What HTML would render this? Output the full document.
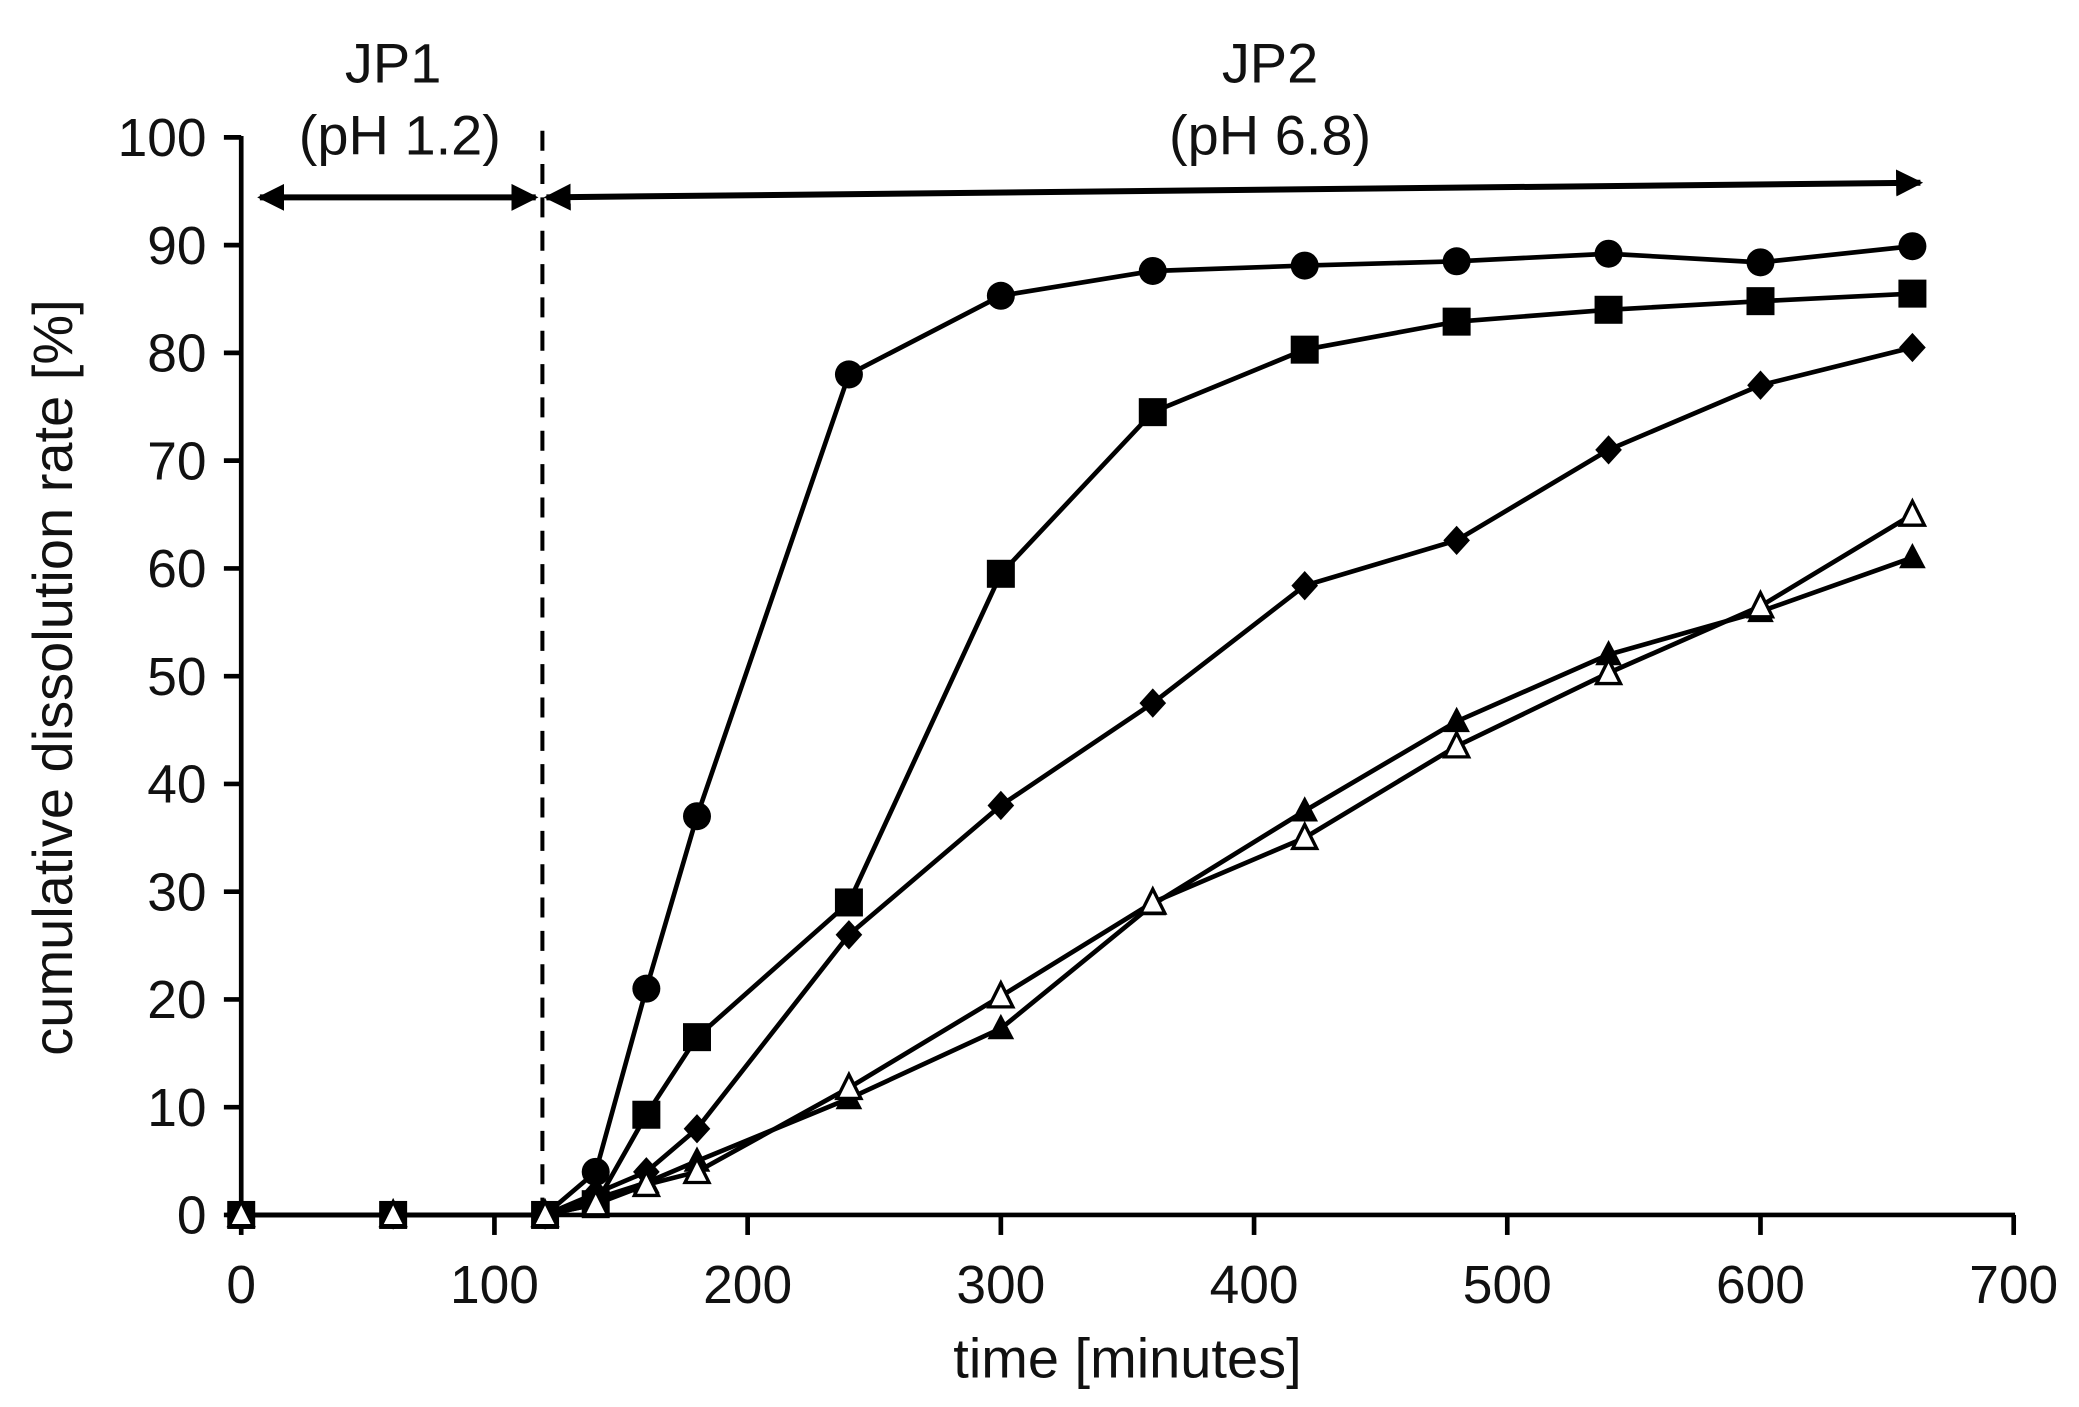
<!DOCTYPE html>
<html><head><style>html,body{margin:0;padding:0;background:#fff;}svg{display:block;}</style></head>
<body>
<svg width="2079" height="1407" viewBox="0 0 1560 1055" preserveAspectRatio="none" xmlns="http://www.w3.org/2000/svg" font-family="Liberation Sans, Arial, sans-serif">
<defs>
<marker id="ah" viewBox="0 0 10 10" refX="9" refY="5" markerWidth="4.5" markerHeight="4.5" orient="auto-start-reverse"><path d="M0,0 L10,5 L0,10 z" fill="#000"/></marker>
</defs>
<g stroke="#000" stroke-width="3.5" fill="none">
<line x1="181" y1="102" x2="181" y2="913"/>
<line x1="170" y1="911" x2="1512" y2="911"/>
</g>
<g stroke="#000" stroke-width="3.5" id="yt"></g>
<g stroke="#000" stroke-width="3.5" id="xt"></g>
<g font-size="40" fill="#111" text-anchor="end" id="yl"></g>
<g font-size="40" fill="#111" text-anchor="middle" id="xl"></g>
<line x1="407" y1="98" x2="407" y2="911" stroke="#000" stroke-width="3" stroke-dasharray="15,10"/>
<line x1="195" y1="148" x2="402" y2="148" stroke="#000" stroke-width="4.5" marker-start="url(#ah)" marker-end="url(#ah)"/>
<line x1="410" y1="148" x2="1441" y2="137" stroke="#000" stroke-width="4.5" marker-start="url(#ah)" marker-end="url(#ah)"/>
<text x="295" y="62" font-size="42" fill="#111" text-anchor="middle">JP1</text>
<text x="300" y="116" font-size="42" fill="#111" text-anchor="middle">(pH 1.2)</text>
<text x="953" y="62" font-size="42" fill="#111" text-anchor="middle">JP2</text>
<text x="953" y="116" font-size="42" fill="#111" text-anchor="middle">(pH 6.8)</text>
<text x="846" y="1033" font-size="42" fill="#111" text-anchor="middle">time [minutes]</text>
<text transform="translate(54,508) rotate(-90)" font-size="42" fill="#111" text-anchor="middle">cumulative dissolution rate [%]</text>
<g id="series"></g>
<script>
var ns="http://www.w3.org/2000/svg";
function X(t){return 181+t*1.9;} function Y(v){return 911-v*8.08;}
function el(p,n,a){var e=document.createElementNS(ns,n);for(var k in a)e.setAttribute(k,a[k]);document.getElementById(p).appendChild(e);return e;}
for(var i=0;i<=10;i++){var y=Y(i*10);el('yt','line',{x1:168,y1:y,x2:181,y2:y});var t=el('yl','text',{x:155,y:y+14});t.textContent=i*10;}
for(var i=0;i<=7;i++){var x=X(i*100);el('xt','line',{x1:x,y1:911,x2:x,y2:926});var t=el('xl','text',{x:x,y:977});t.textContent=i*100;}
var T=[0,60,120,140,160,180,240,300,360,420,480,540,600,660];
var S=[
["c",[0,0,0,4,21,37,78,85.3,87.6,88.1,88.5,89.2,88.4,89.9]],
["s",[0,0,0,1,9.3,16.5,29,59.5,74.5,80.3,82.9,84,84.8,85.5]],
["d",[0,0,0,2,4,8,26,38,47.5,58.4,62.6,71,77,80.5]],
["t",[0,0,0,1.5,3,5,10.8,17.3,28.8,37.5,45.8,52,56,61]],
["o",[0,0,0,1,2.8,4,11.8,20.3,29,35,43.5,50.3,56.5,65]]];
S.forEach(function(s){var pts=T.map(function(t,i){return X(t)+","+Y(s[1][i]);}).join(" ");
el('series','polyline',{points:pts,fill:"none",stroke:"#000","stroke-width":3.5});});
S.forEach(function(s){T.forEach(function(t,i){var x=X(t),y=Y(s[1][i]);
if(s[0]=="c")el('series','circle',{cx:x,cy:y,r:10.5,fill:"#000"});
if(s[0]=="s")el('series','rect',{x:x-10.5,y:y-10.5,width:21,height:21,fill:"#000"});
if(s[0]=="d")el('series','polygon',{points:[x,y-11,x+10,y,x,y+11,x-10,y].join(","),fill:"#000"});
if(s[0]=="t")el('series','polygon',{points:[x,y-11,x+10,y+8,x-10,y+8].join(","),fill:"#000"});
if(s[0]=="o")el('series','polygon',{points:[x,y-10,x+9,y+8,x-9,y+8].join(","),fill:"#fff",stroke:"#000","stroke-width":2.5});
});});
</script>
</svg>
</body></html>
